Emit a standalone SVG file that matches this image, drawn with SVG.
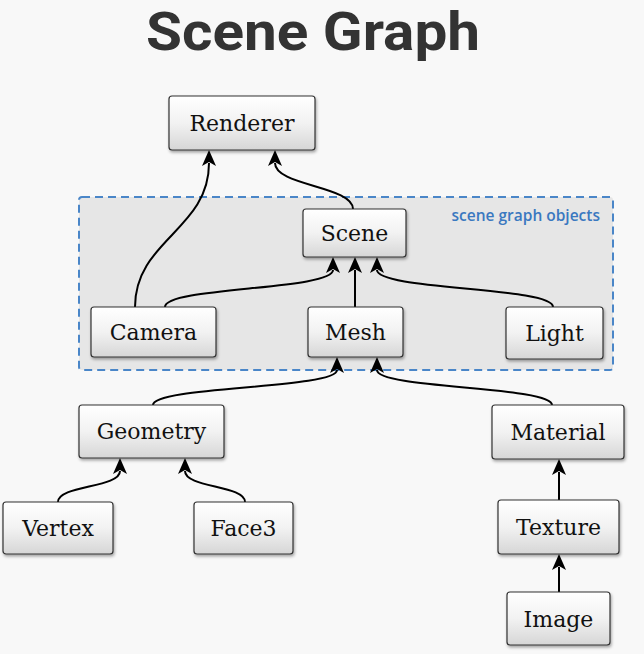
<svg xmlns="http://www.w3.org/2000/svg" width="644" height="654" viewBox="0 0 644 654">
<defs>
<linearGradient id="g" x1="0" y1="0" x2="0" y2="1">
<stop offset="0" stop-color="#ffffff"/>
<stop offset="0.5" stop-color="#f2f2f2"/>
<stop offset="1" stop-color="#d6d6d6"/>
</linearGradient>
<filter id="sh" x="-10%" y="-10%" width="130%" height="140%">
<feDropShadow dx="1" dy="2" stdDeviation="1.5" flood-color="#000" flood-opacity="0.35"/>
</filter>
<marker id="arr" markerUnits="userSpaceOnUse" viewBox="0 -7 16 14" refX="3" refY="0" markerWidth="16" markerHeight="14" orient="auto">
<path d="M16,0 L0,-7 L4,0 L0,7 Z" fill="#000"/>
</marker>
</defs>
<style>
.box rect{fill:url(#g);stroke:#333;stroke-width:1.2;filter:url(#sh)}
.box text{font-family:"DejaVu Serif","Liberation Serif",serif;font-size:22px;fill:#111;text-anchor:middle}
.edge{fill:none;stroke:#000;stroke-width:2;marker-end:url(#arr)}
</style>
<rect x="0" y="0" width="644" height="654" fill="#f8f8f8"/>
<text x="313" y="49.5" font-family="Roboto,'Open Sans',sans-serif" font-weight="700" font-size="53" fill="#333" text-anchor="middle" textLength="334" lengthAdjust="spacingAndGlyphs">Scene Graph</text>
<g id="group-scene-graph-objects">
<rect x="79" y="197" width="534" height="173" rx="3" fill="#e6e6e6" stroke="#4a86c8" stroke-width="2" stroke-dasharray="8,5"/>
<text x="600" y="221" font-family="'Open Sans','Noto Sans',sans-serif" font-weight="600" font-size="15.5" fill="#3a78c0" text-anchor="end">scene graph objects</text>
</g>
<g id="connectors">
<path class="edge" d="M135,307 C135,240 209,230 209,163"/>
<path class="edge" d="M353,209 C353,186 275,186 275,163"/>
<path class="edge" d="M165,307 C165,287 333,290 333,270"/>
<path class="edge" d="M355,307 L355,270"/>
<path class="edge" d="M553,307 C553,287 377,290 377,270"/>
<path class="edge" d="M153,405 C153,386 337,389 337,370"/>
<path class="edge" d="M552,405 C552,386 377,389 377,370"/>
<path class="edge" d="M58,502 C58,485 120,488 120,471"/>
<path class="edge" d="M245,502 C245,485 185,488 185,471"/>
<path class="edge" d="M559,500 L559,472"/>
<path class="edge" d="M559,592 L559,567"/>
</g>
<g id="node-renderer" class="box"><rect x="169" y="96" width="146" height="54" rx="3"/><text x="242" y="131">Renderer</text></g>
<g id="node-scene" class="box"><rect x="303" y="209" width="103" height="48" rx="3"/><text x="354.5" y="241">Scene</text></g>
<g id="node-camera" class="box"><rect x="91" y="307" width="125" height="50" rx="3"/><text x="153.5" y="340">Camera</text></g>
<g id="node-mesh" class="box"><rect x="308" y="307" width="95" height="50" rx="3"/><text x="355.5" y="340">Mesh</text></g>
<g id="node-light" class="box"><rect x="506" y="307" width="97" height="52" rx="3"/><text x="554.5" y="341">Light</text></g>
<g id="node-geometry" class="box"><rect x="79" y="405" width="145" height="53" rx="3"/><text x="151.5" y="439">Geometry</text></g>
<g id="node-vertex" class="box"><rect x="3" y="502" width="110" height="52" rx="3"/><text x="58" y="536">Vertex</text></g>
<g id="node-face3" class="box"><rect x="194" y="502" width="99" height="52" rx="3"/><text x="243.5" y="536">Face3</text></g>
<g id="node-material" class="box"><rect x="492" y="405" width="132" height="54" rx="3"/><text x="558" y="440">Material</text></g>
<g id="node-texture" class="box"><rect x="498" y="500" width="121" height="54" rx="3"/><text x="558.5" y="535">Texture</text></g>
<g id="node-image" class="box"><rect x="507" y="592" width="103" height="53" rx="3"/><text x="558.5" y="627">Image</text></g>
</svg>
